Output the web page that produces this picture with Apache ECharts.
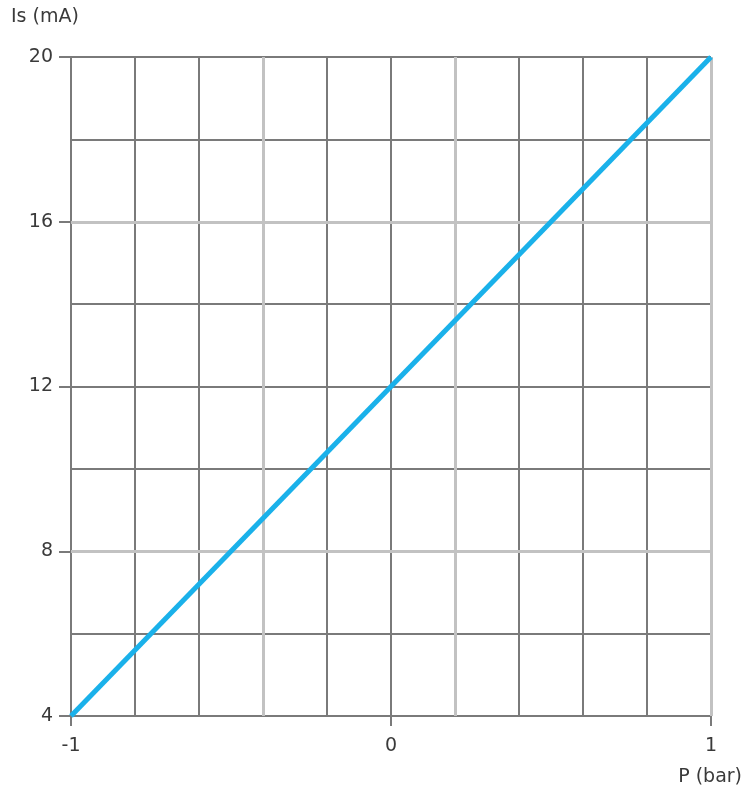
<!DOCTYPE html>
<html>
<head>
<meta charset="utf-8">
<script src="https://cdn.jsdelivr.net/npm/echarts@6/dist/echarts.min.js"></script>
<style>html,body{margin:0;padding:0;background:#fff}#c{width:753px;height:800px}</style>
</head>
<body>
<div id="c"></div>
<script>
const pressure = [-1, 1];
const current = [4, 20];
const xLabels = [-1, 0, 1];
const yLabels = [4, 8, 12, 16, 20];
const lightX = [-0.4, 0.2, 1.0];
const lightY = [8, 16];

const chart = echarts.init(document.getElementById('c'), null, {renderer: 'canvas'});
const font = 'DejaVu Sans, Verdana, sans-serif';
const dark = '#7a7a7a';
const light = '#c2c2c2';
const txt = '#3a3a3a';
const fs = 19;

chart.setOption({
  animation: false,
  grid: {left: 71, right: 42, top: 57, bottom: 84},
  xAxis: [
    {type: 'value', min: -1, max: 1, interval: 0.2,
     axisLine: {show: false}, axisTick: {show: false}, axisLabel: {show: false},
     splitLine: {show: true, lineStyle: {color: dark, width: 2}}},
    {type: 'value', min: -1, max: 1, interval: 1, position: 'bottom',
     axisLine: {show: true, onZero: false, lineStyle: {color: dark, width: 2}},
     axisTick: {show: true, length: 10, lineStyle: {color: dark, width: 2}},
     axisLabel: {show: true, margin: 21, color: txt, fontSize: fs, fontFamily: font,
                 formatter: v => xLabels.includes(v) ? String(v) : ''},
     splitLine: {show: false}}
  ],
  yAxis: [
    {type: 'value', min: 4, max: 20, interval: 2,
     axisLine: {show: false}, axisTick: {show: false}, axisLabel: {show: false},
     splitLine: {show: true, lineStyle: {color: dark, width: 2}}},
    {type: 'value', min: 4, max: 20, interval: 4, position: 'left',
     axisLine: {show: true, onZero: false, lineStyle: {color: dark, width: 2}},
     axisTick: {show: true, length: 12, lineStyle: {color: dark, width: 2}},
     axisLabel: {show: true, margin: 18, color: txt, fontSize: fs, fontFamily: font,
                 formatter: v => yLabels.includes(v) ? String(v) : ''},
     splitLine: {show: false}}
  ],
  graphic: [
    {type: 'text', left: 11, top: 8, style: {text: 'Is (mA)', fill: txt, font: fs + 'px ' + font}},
    {type: 'text', right: 11, top: 768, style: {text: 'P (bar)', fill: txt, font: fs + 'px ' + font}}
  ],
  series: [
    {type: 'line', xAxisIndex: 0, yAxisIndex: 0, symbol: 'none', z: 1,
     data: [],
     markLine: {silent: true, symbol: 'none', label: {show: false},
       lineStyle: {color: light, width: 3, type: 'solid'},
       data: lightX.map(v => ({xAxis: v})).concat(lightY.map(v => ({yAxis: v})))}},
    {type: 'line', xAxisIndex: 0, yAxisIndex: 0, symbol: 'none', z: 5,
     lineStyle: {color: '#1ab1ea', width: 5},
     data: pressure.map((p, i) => [p, current[i]])}
  ]
});
</script>
</body>
</html>
